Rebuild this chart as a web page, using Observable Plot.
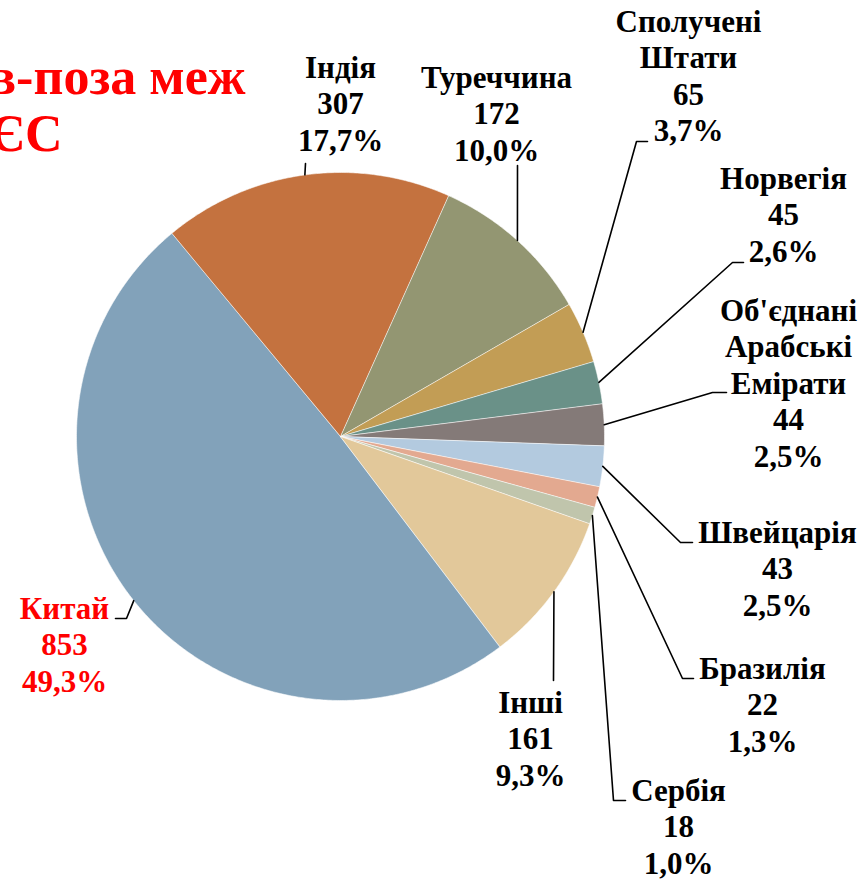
<!DOCTYPE html>
<html>
<head>
<meta charset="utf-8">
<script src="https://cdn.jsdelivr.net/npm/d3@7"></script>
<script src="https://cdn.jsdelivr.net/npm/@observablehq/plot@0.6"></script>
<style>
  html, body { margin: 0; padding: 0; background: #fff; }
  #chart { width: 864px; height: 879px; overflow: hidden; }
</style>
</head>
<body>
<div id="chart"></div>
<script>
// ---- data ----
const countries = ["Китай", "Індія", "Туреччина", "Сполучені Штати", "Норвегія",
  "Об'єднані Арабські Емірати", "Швейцарія", "Бразилія", "Сербія", "Інші"];
const nameLines = [["Китай"], ["Індія"], ["Туреччина"], ["Сполучені", "Штати"], ["Норвегія"],
  ["Об'єднані", "Арабські", "Емірати"], ["Швейцарія"], ["Бразилія"], ["Сербія"], ["Інші"]];
const values = [853, 307, 172, 65, 45, 44, 43, 22, 18, 161];
const percents = ["49,3%", "17,7%", "10,0%", "3,7%", "2,6%", "2,5%", "2,5%", "1,3%", "1,0%", "9,3%"];
const titleLines = ["в-поза меж", "ЄС"];

// ---- styles / layout ----
const colors = ["#82A2BA", "#C4723F", "#939672", "#C29D55", "#6A9188",
  "#847A78", "#B3CADF", "#E3A990", "#C0C5AC", "#E2C89A"];
const labelColors = ["#FF0000", "#000", "#000", "#000", "#000", "#000", "#000", "#000", "#000", "#000"];
const W = 864, H = 879;
const CX = 340, CY = 436, R = 264, START = 142.8; // degrees clockwise from 12 o'clock
const labelX = [64, 340, 496, 688, 783, 788, 777, 762, 678, 530];
const labelY = [618, 77, 87, 31, 188, 320, 542, 678, 800, 712];
const lineStep = 36.5;
const leaderPts = [
  [[126, 618], [115, 618]],
  [[305, 163]],
  [[517, 165]],
  [[636, 141], [647, 141]],
  [[732, 262], [743, 262]],
  [[712, 392], [726, 392]],
  [[680, 542], [692, 542]],
  [[682, 678], [693, 678]],
  [[613, 800], [625, 800]],
  [[553, 680]]
];
const titleX = [245, 62], titleY = [93, 150];
const FONT = "Liberation Serif";

// ---- geometry from data ----
const total = d3.sum(values);
const rad = d => d * Math.PI / 180;
const px = (a, r) => CX + r * Math.sin(rad(a));
const py = (a, r) => CY - r * Math.cos(rad(a));
let acc = START;
const slices = countries.map((name, i) => {
  const a0 = acc, a1 = acc + values[i] / total * 360;
  acc = a1;
  return {name, i, a0, a1, mid: (a0 + a1) / 2, color: colors[i]};
});
const slicePts = [];
for (const s of slices) {
  slicePts.push({name: s.name, color: s.color, x: CX, y: CY});
  const n = Math.max(2, Math.ceil((s.a1 - s.a0) / 0.5));
  for (let k = 0; k <= n; k++) {
    const a = s.a0 + (s.a1 - s.a0) * k / n;
    slicePts.push({name: s.name, color: s.color, x: px(a, R), y: py(a, R)});
  }
}
const leaderData = [];
slices.forEach((s, i) => {
  leaderData.push({name: s.name, x: px(s.mid, R), y: py(s.mid, R)});
  for (const [x, y] of leaderPts[i]) leaderData.push({name: s.name, x, y});
});
const labelRows = [];
slices.forEach((s, i) => {
  const lines = [...nameLines[i], String(values[i]), percents[i]];
  lines.forEach((t, k) => labelRows.push({text: t, x: labelX[i], y: labelY[i] + k * lineStep, color: labelColors[i]}));
});
const titleRows = titleLines.map((t, k) => ({text: t, x: titleX[k], y: titleY[k]}));

const chart = Plot.plot({
  width: W, height: H,
  margin: 0,
  x: {domain: [0, W], range: [0, W], axis: null},
  y: {domain: [0, H], range: [0, H], axis: null},
  color: {type: "identity"},
  marks: [
    Plot.line(slicePts, {x: "x", y: "y", z: "name", fill: "color", stroke: "#fff",
      strokeWidth: 0.8, strokeOpacity: 0.7, curve: "linear-closed"}),
    Plot.line(leaderData, {x: "x", y: "y", z: "name", stroke: "#000", strokeWidth: 1.6}),
    Plot.text(labelRows, {x: "x", y: "y", text: "text", fill: "color", textAnchor: "middle",
      lineAnchor: "bottom", fontSize: 31, fontWeight: "bold", fontFamily: FONT}),
    Plot.text(titleRows, {x: "x", y: "y", text: "text", fill: "#FF0000", textAnchor: "end",
      lineAnchor: "bottom", fontSize: 52, fontWeight: "bold", fontFamily: FONT})
  ]
});
document.getElementById("chart").appendChild(chart);
</script>
</body>
</html>
